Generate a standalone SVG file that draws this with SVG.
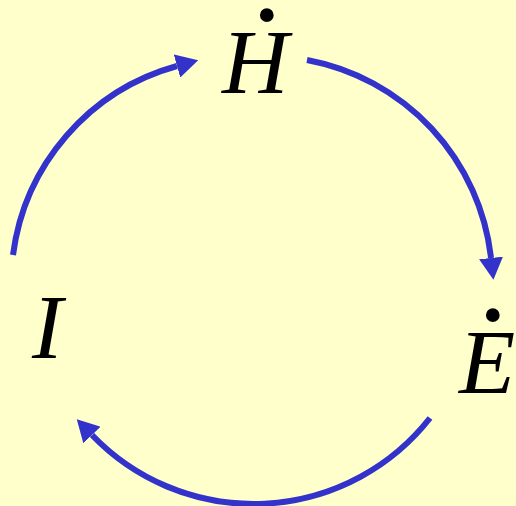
<svg xmlns="http://www.w3.org/2000/svg" width="516" height="506" viewBox="0 0 516 506">
<style>
.bg{fill:#FFFFCC}
.arc{fill:none;stroke:#3333CC;stroke-width:6;marker-end:url(#ah)}
.lbl{font-family:"Liberation Serif","Times New Roman",serif;font-style:italic;font-size:92px;fill:#000}
.dt{font-style:normal;font-size:130px}
</style>
<defs>
<marker id="ah" markerUnits="userSpaceOnUse" markerWidth="22" markerHeight="24" viewBox="0 0 22 24" refX="0" refY="12" orient="auto"><path d="M0,0 L22,12 L0,24 z" fill="#3333CC"/></marker>
</defs>
<rect class="bg" x="0" y="0" width="516" height="506"/>
<g id="connectors">
<path class="arc" d="M13,255 A226,226 0 0 1 177,66"/>
<path class="arc" d="M307,60 A227,227 0 0 1 491,258"/>
<path class="arc" d="M430,418 A224,224 0 0 1 92,435"/>
</g>
<g id="node-H">
<text class="lbl" x="222" y="93">H<tspan class="dt" x="245" y="94">˙</tspan></text>
</g>
<g id="node-E">
<text class="lbl" x="459" y="393">E<tspan class="dt" x="471" y="394">˙</tspan></text>
</g>
<g id="node-I">
<text class="lbl" x="32" y="358">I</text>
</g>
</svg>
